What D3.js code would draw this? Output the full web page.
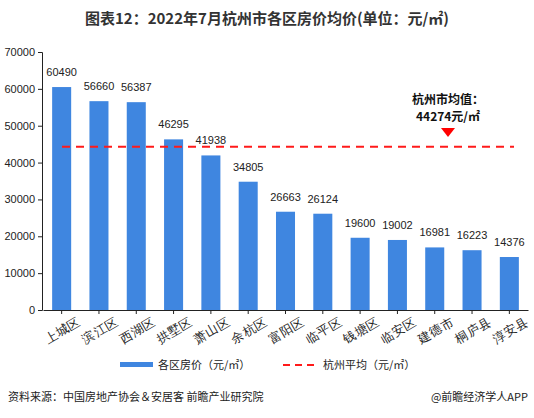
<!DOCTYPE html>
<html><head><meta charset="utf-8">
<script src="https://cdn.jsdelivr.net/npm/d3@7/dist/d3.min.js"></script>
<style>body{margin:0;background:#fff;}svg{display:block;font-family:"Noto Sans CJK SC","Noto Sans",sans-serif;}</style>
</head><body><svg id="c" width="534" height="418"></svg>
<script>
const categories = ["上城区","滨江区","西湖区","拱墅区","萧山区","余杭区","富阳区","临平区","钱塘区","临安区","建德市","桐庐县","淳安县"];
const prices = [60490,56660,56387,46295,41938,34805,26663,26124,19600,19002,16981,16223,14376];
const cityAverage = 44274;
const yTicks = [0,10000,20000,30000,40000,50000,60000,70000];

const svg = d3.select("#c");
const x = d3.scaleBand().domain(categories).range([43,528]).paddingInner(0.49).paddingOuter(0.245);
const y = d3.scaleLinear().domain([0,70000]).range([310,52]);

svg.append("text").attr("x",267).attr("y",24).attr("text-anchor","middle")
  .attr("font-size",15).attr("font-weight","bold").attr("fill","#333")
  .text("图表12：2022年7月杭州市各区房价均价(单位：元/㎡)");

// y axis
const ya = svg.append("g").attr("transform","translate(42,0)")
  .call(d3.axisLeft(y).tickValues(yTicks).tickSize(4).tickFormat(d3.format("d")));
ya.selectAll("text").attr("font-size",11).attr("fill","#222").attr("font-family","Liberation Sans, Arial, sans-serif");
ya.selectAll("line,path").attr("stroke","#222");

// bars
svg.append("g").selectAll("rect").data(prices).join("rect")
  .attr("x",(d,i)=>x(categories[i])).attr("width",x.bandwidth())
  .attr("y",d=>y(d)).attr("height",d=>y(0)-y(d)).attr("fill","#3f86e0");

// value labels
svg.append("g").selectAll("text").data(prices).join("text")
  .attr("x",(d,i)=>x(categories[i])+x.bandwidth()/2).attr("y",d=>y(d)-11)
  .attr("text-anchor","middle").attr("font-size",11).attr("fill","#222")
  .attr("font-family","Liberation Sans, Arial, sans-serif").text(d=>d);

// x axis
const xa = svg.append("g").attr("transform","translate(0,310)")
  .call(d3.axisBottom(x).tickSize(4).tickSizeOuter(0));
xa.selectAll("line,path").attr("stroke","#222");
xa.selectAll("text").attr("font-size",12.5).attr("fill","#222")
  .attr("text-anchor","middle").attr("y",0).attr("dy","0.35em")
  .attr("transform","translate(1,20) rotate(-30)");

// average line
svg.append("line").attr("x1",62).attr("x2",514).attr("y1",y(cityAverage)).attr("y2",y(cityAverage))
  .attr("stroke","#ff1a1a").attr("stroke-width",2).attr("stroke-dasharray","8,6");

// annotation
svg.append("text").attr("x",448).attr("y",104).attr("text-anchor","middle")
  .attr("font-size",12).attr("font-weight","bold").attr("fill","#111").text("杭州市均值：");
svg.append("text").attr("x",448).attr("y",121).attr("text-anchor","middle")
  .attr("font-size",12).attr("font-weight","bold").attr("fill","#111").text(cityAverage+"元/㎡");
svg.append("path").attr("d","M441,128 L455,128 L448,137 Z").attr("fill","#ff0000");

// legend
svg.append("rect").attr("x",120).attr("y",362).attr("width",33).attr("height",5).attr("fill","#3f86e0");
svg.append("text").attr("x",158).attr("y",369).attr("font-size",11).attr("fill","#222").text("各区房价（元/㎡）");
svg.append("line").attr("x1",283).attr("x2",319).attr("y1",365).attr("y2",365)
  .attr("stroke","#ff1a1a").attr("stroke-width",2).attr("stroke-dasharray","7,5");
svg.append("text").attr("x",323).attr("y",369).attr("font-size",11).attr("fill","#222").text("杭州平均（元/㎡）");

// footer
svg.append("text").attr("x",8).attr("y",401).attr("font-size",11).attr("fill","#222").text("资料来源：中国房地产协会＆安居客 前瞻产业研究院");
svg.append("text").attr("x",528).attr("y",401).attr("text-anchor","end").attr("font-size",11).attr("fill","#222").text("@前瞻经济学人APP");
</script></body></html>
